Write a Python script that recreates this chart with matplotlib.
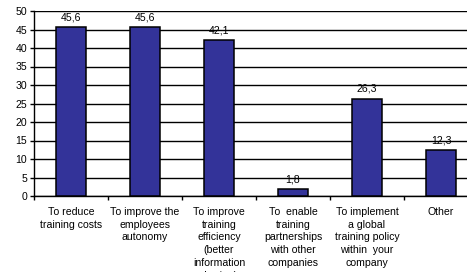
import matplotlib.pyplot as plt
import numpy as np

plt.rcParams['font.family'] = ['Liberation Sans', 'DejaVu Sans']

# Data.
categories = [
    "To reduce\ntraining costs",
    "To improve the\nemployees\nautonomy",
    "To improve\ntraining\nefficiency\n(better\ninformation\nsharing)",
    "To  enable\ntraining\npartnerships\nwith other\ncompanies",
    "To implement\na global\ntraining policy\nwithin  your\ncompany",
    "Other",
]
values = [45.6, 45.6, 42.1, 1.8, 26.3, 12.3]
value_labels = ["45,6", "45,6", "42,1", "1,8", "26,3", "12,3"]
y_ticks = [0, 5, 10, 15, 20, 25, 30, 35, 40, 45, 50]

fig = plt.figure(figsize=(4.67, 2.72), dpi=100)
ax = fig.add_axes([34 / 467, 76 / 272, 444 / 467, 185 / 272])

x = np.arange(len(values))
ax.bar(x, values, width=0.41, color='#333399', edgecolor='black', linewidth=1.1, zorder=3)

for xi, v, lab in zip(x, values, value_labels):
    ax.text(xi, v + 1.3, lab, ha='center', va='bottom', fontsize=7.6, zorder=4)

ax.set_ylim(0, 50)
ax.set_xlim(-0.5, len(values) - 0.5)
ax.set_yticks(y_ticks)
ax.tick_params(axis='y', labelsize=7.6, length=3, width=1, pad=2)
ax.yaxis.grid(True, color='black', linewidth=1.0, zorder=0)

# category boundary ticks, labels centred under bars
ax.set_xticks(np.arange(len(values) + 1) - 0.5)
ax.set_xticklabels([])
ax.tick_params(axis='x', length=3, width=1, direction='out')
for xi, lab in zip(x, categories):
    ax.text(xi, -2.9, lab, ha='center', va='top', fontsize=7.6, linespacing=1.36)

for side in ['top', 'right']:
    ax.spines[side].set_visible(False)
ax.spines['left'].set_linewidth(1.0)
ax.spines['bottom'].set_linewidth(1.0)

fig.savefig("out.png", dpi=100)
